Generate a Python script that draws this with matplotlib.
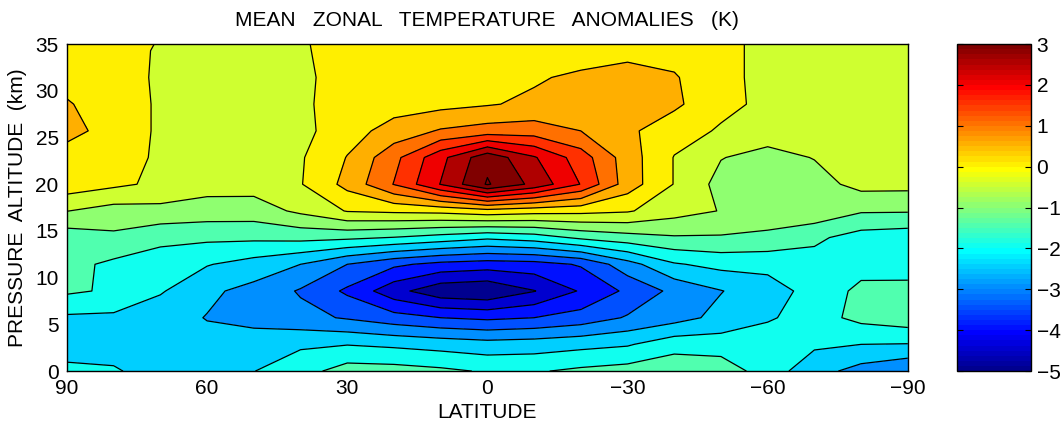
import numpy as np
import matplotlib
matplotlib.use("Agg")
import matplotlib.pyplot as plt
from matplotlib.colors import ListedColormap, Normalize
from matplotlib.cm import ScalarMappable

# grid: latitude columns (90N -> 90S) and pressure-altitude rows (km)
lat = [90, 80, 70, 60, 50, 40, 30, 20, 10, 0, -10, -20, -30, -40, -50, -60, -70, -80, -90]
alt = [0.0, 2.86, 5.71, 8.57, 11.43, 14.29, 17.14, 20.0, 22.86, 25.71, 28.57, 31.43, 34.29, 37.14]

# zonal temperature anomaly (K), one list per altitude row
t00 = [-1.9, -1.95, -2.2, -2.2, -2.01, -1.7, -1.275, -1.3, -1.4, -1.55, -1.55, -1.4, -1.3, -1.15, -1.2, -1.75, -2.3, -2.69, -2.95]
t01 = [-2.2, -2.2, -2.3, -2.35, -2.19, -2.075, -2.02, -2.1, -2.2, -2.3, -2.25, -2.15, -2.05, -1.7, -1.75, -1.6, -1.92, -2.0, -2.02]
t02 = [-2.08, -2.1, -2.3, -2.52, -2.7, -2.85, -3.05, -3.3, -3.5, -3.6, -3.5, -3.3, -2.95, -2.7, -2.35, -2.08, -1.7, -1.36, -1.2]
t03 = [-1.42, -1.57, -1.95, -2.4, -2.66, -3.05, -3.59, -4.32, -4.85, -4.95, -4.52, -3.95, -3.4, -2.87, -2.52, -2.2, -1.84, -1.37, -1.35]
t04 = [-1.35, -1.6, -1.75, -1.97, -2.2, -2.5, -3.0, -3.4, -3.65, -3.75, -3.7, -3.45, -2.7, -2.05, -1.85, -1.87, -1.7, -1.7, -1.72]
t05 = [-1.28, -1.1, -1.365, -1.4, -1.4, -1.35, -1.4, -1.52, -1.7, -1.9, -1.75, -1.4, -1.2, -1.05, -1.05, -1.1, -1.4, -1.71, -1.79]
t06 = [-0.49, -0.7, -0.65, -0.73, -0.74, -0.4, 0.03, 0.1, 0.15, 0.32, 0.2, 0.15, 0.05, -0.3, -0.52, -0.74, -0.65, -0.95, -0.96]
t07 = [0.29, 0.1, -0.1, -0.3, -0.3, -0.03, 0.65, 1.52, 2.52, 3.55, 2.86, 1.98, 0.75, -0.02, -0.67, -0.8, -0.7, -0.34, -0.35]
t08 = [0.16, 0.1, -0.035, -0.3, -0.3, -0.05, 0.52, 1.35, 2.35, 3.35, 2.55, 1.75, 0.74, -0.02, -0.48, -0.67, -0.48, -0.35, -0.35]
t09 = [0.75, 0.2, -0.05, -0.3, -0.3, -0.15, 0.3, 0.69, 1.05, 1.21, 1.25, 1.0, 0.6, 0.2, -0.05, -0.25, -0.3, -0.3, -0.3]
t10 = [0.55, 0.2, -0.05, -0.3, -0.3, -0.1, 0.25, 0.3, 0.35, 0.46, 0.6, 0.8, 0.85, 0.6, 0.12, -0.1, -0.25, -0.3, -0.3]
t11 = [0.3, 0.15, -0.05, -0.3, -0.3, -0.1, 0.2, 0.3, 0.35, 0.38, 0.44, 0.6, 0.7, 0.55, 0.1, -0.1, -0.25, -0.3, -0.3]
t12 = [0.3, 0.15, -0.04, -0.3, -0.3, -0.06, 0.2, 0.25, 0.3, 0.3, 0.3, 0.23, 0.35, 0.3, 0.1, -0.1, -0.25, -0.3, -0.3]
t13 = [0.3, 0.15, 0.02, -0.3, -0.3, -0.03, 0.2, 0.25, 0.3, 0.3, 0.3, 0.25, 0.3, 0.25, 0.1, -0.1, -0.25, -0.3, -0.3]

levels = np.arange(-5.0, 4.01, 0.5)
cbar_ticks = [-5, -4, -3, -2, -1, 0, 1, 2, 3]
xticks = [90, 60, 30, 0, -30, -60, -90]
yticks = [0, 5, 10, 15, 20, 25, 30, 35]


def matlab_jet(m=64):
    # MATLAB's jet(m), slightly different from matplotlib's "jet"
    n = int(np.ceil(m / 4))
    u = np.concatenate([np.arange(1, n + 1) / n, np.ones(n - 1), np.arange(n, 0, -1) / n])
    g = int(np.ceil(n / 2)) - (m % 4 == 1) + np.arange(1, len(u) + 1)
    r = g + n
    b = g - n
    J = np.zeros((m, 3))
    J[r[r <= m] - 1, 0] = u[r <= m]
    J[g[g <= m] - 1, 1] = u[g <= m]
    J[b[b >= 1] - 1, 2] = u[b >= 1]
    return ListedColormap(J)


def minus(v):
    return str(v).replace("-", "\u2212")


cmap = matlab_jet(64)
norm = Normalize(vmin=-5, vmax=3, clip=True)
# each band takes the colour of its lower level, like MATLAB's contourf
band_colors = [cmap(norm(v)) for v in levels[:-1]]

T = np.array([t00, t01, t02, t03, t04, t05, t06, t07, t08, t09, t10, t11, t12, t13])
LAT, ALT = np.meshgrid(lat, alt)

plt.rcParams["font.family"] = ["Liberation Sans", "DejaVu Sans"]
fig = plt.figure(figsize=(10.63, 4.28), dpi=100)
ax = fig.add_axes([0.063, 0.133, 0.791, 0.764])
cax = fig.add_axes([0.9003, 0.133, 0.0696, 0.764])

ax.contourf(LAT, ALT, T, levels=levels, colors=band_colors)
ax.contour(LAT, ALT, T, levels=levels, colors="k", linewidths=0.9, linestyles="solid")
ax.set_xlim(90, -90)
ax.set_ylim(0, 35)
ax.set_xticks(xticks)
ax.set_xticklabels([minus(v) for v in xticks])
ax.set_yticks(yticks)
ax.tick_params(axis="x", length=0, labelsize=15, pad=6)
ax.tick_params(axis="y", length=0, labelsize=15, pad=6)
ax.set_xlabel("LATITUDE", fontsize=15, labelpad=3)
ax.set_ylabel("PRESSURE  ALTITUDE  (km)", fontsize=15, labelpad=6)
ax.set_title("MEAN   ZONAL   TEMPERATURE   ANOMALIES   (K)", fontsize=15, pad=13)
for s in ax.spines.values():
    s.set_linewidth(1.0)

cb = fig.colorbar(ScalarMappable(norm=Normalize(-5, 3), cmap=cmap), cax=cax, ticks=cbar_ticks)
cb.ax.set_yticklabels([minus(v) for v in cbar_ticks])
cb.ax.tick_params(direction="in", left=True, right=True, length=4, labelsize=15, pad=4)
cb.outline.set_linewidth(1.0)

fig.savefig("out.png", dpi=100)
